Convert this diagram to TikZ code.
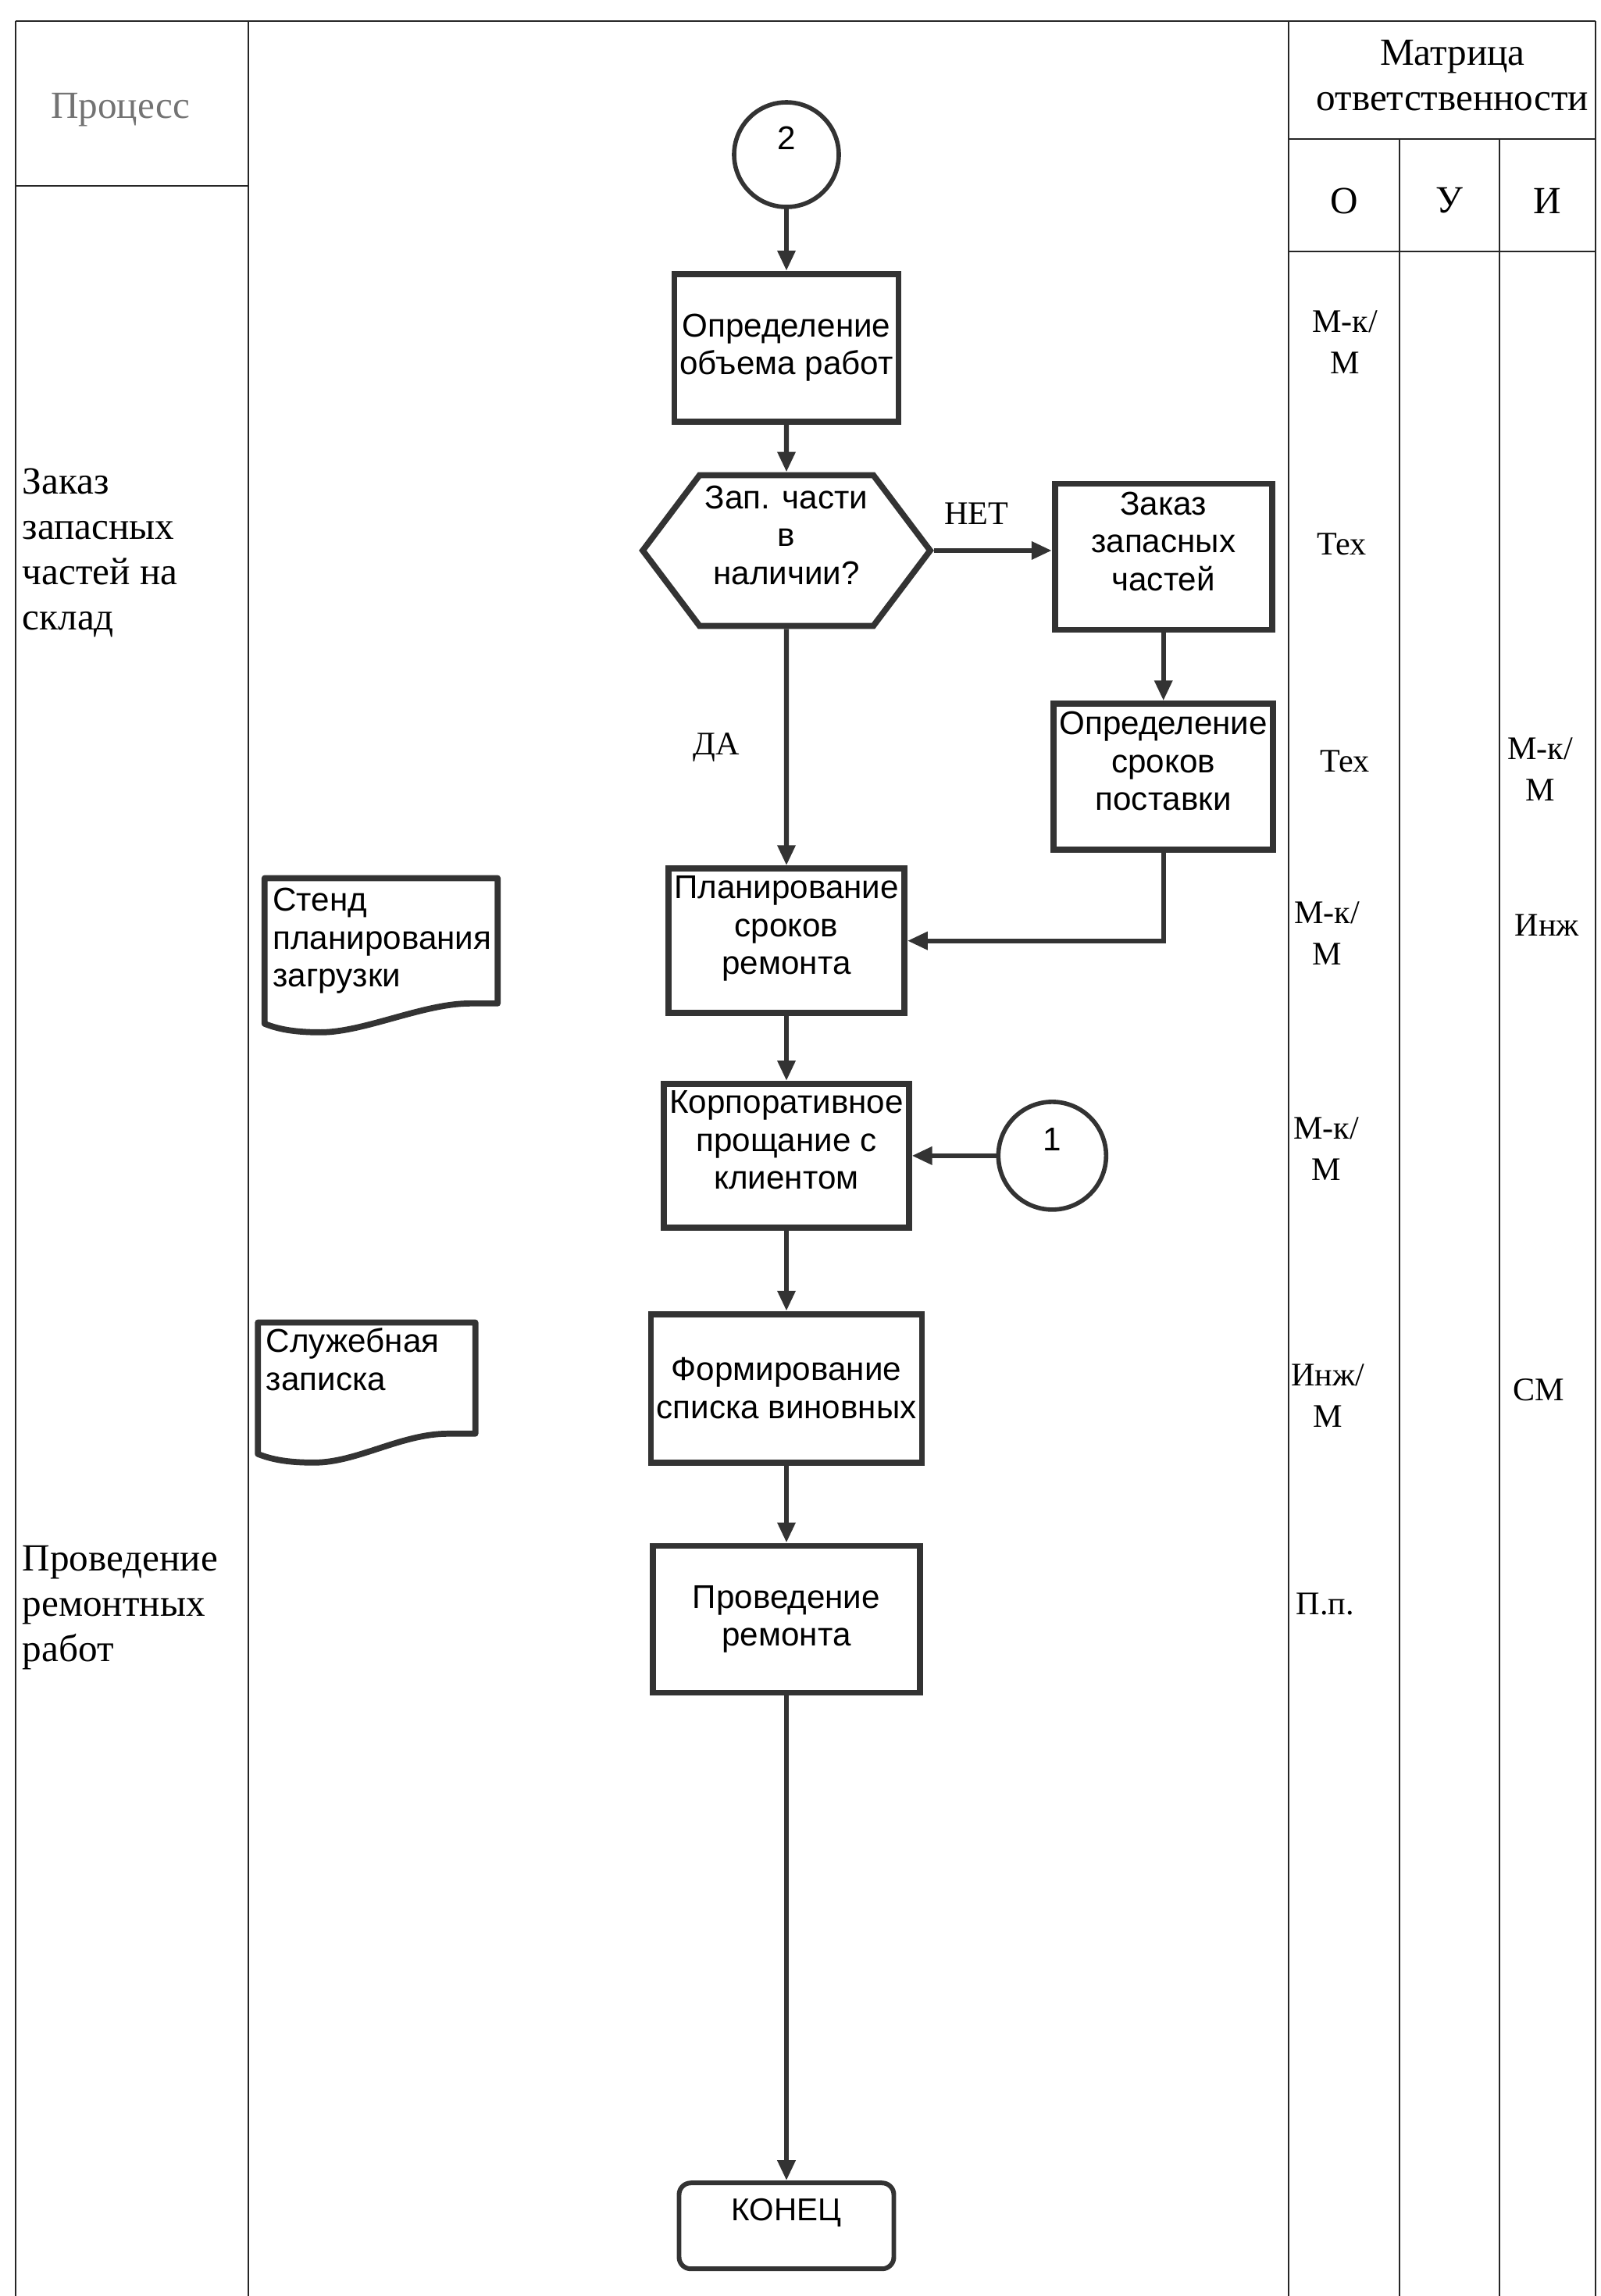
\documentclass[tikz,border=0pt]{standalone}
\usepackage{fontspec}
\setmainfont{Liberation Serif}
\newfontfamily\arialfont{Liberation Sans}
\usetikzlibrary{shapes,arrows.meta,positioning,calc}

\begin{document}
\begin{tikzpicture}[
        box/.style={rectangle, draw=black!80, line width=2.2pt, align=center,
            inner sep=2pt, font=\arialfont\fontsize{12}{13.8}\selectfont},
        box3/.style={box, text depth=0.40cm},
        decis/.style={signal, signal to=east and west, signal pointer angle=106,
            draw=black!80, line width=2.2pt, align=center, inner sep=2pt, text depth=0.40cm,
            font=\arialfont\fontsize{12}{13.8}\selectfont},
        conn/.style={circle, draw=black!80, line width=1.6pt, text depth=0.42cm,
            font=\arialfont\fontsize{12}{13.8}\selectfont},
        endbox/.style={rectangle, rounded corners=0.15cm, draw=black!80, line width=1.7pt,
            text depth=0.42cm, font=\arialfont\fontsize{11.5}{13}\selectfont},
        doc/.style={rectangle, align=left, inner xsep=0.1cm, inner ysep=0pt,
            font=\arialfont\fontsize{12}{13.8}\selectfont},
        docline/.style={draw=black!80, line width=2.2pt, line join=round},
        arr/.style={-{Triangle[length=0.26cm, width=0.22cm]}, line width=1.8pt, draw=black!80},
        grid/.style={line width=0.7pt, draw=black!85},
        proc/.style={align=left, inner sep=0pt, font=\fontsize{14}{16.5}\selectfont},
        head/.style={align=center, inner sep=0pt, font=\fontsize{14}{16.5}\selectfont},
        resp/.style={align=center, inner sep=0pt, font=\fontsize{12}{15}\selectfont},
        yesno/.style={inner sep=0pt, font=\fontsize{12}{14}\selectfont}
    ]
    \useasboundingbox (0,0) rectangle (20.5,-29.4);

    % Table frame
    \draw[grid] (0.2,-0.27) -- (20.43,-0.27);
    \draw[grid] (0.2,-0.27) -- (0.2,-29.4);
    \draw[grid] (3.18,-0.27) -- (3.18,-29.4);
    \draw[grid] (0.2,-2.38) -- (3.18,-2.38);
    \draw[grid] (16.5,-0.27) -- (16.5,-29.4);
    \draw[grid] (20.43,-0.27) -- (20.43,-29.4);
    \draw[grid] (16.5,-1.78) -- (20.43,-1.78);
    \draw[grid] (17.92,-1.78) -- (17.92,-29.4);
    \draw[grid] (19.2,-1.78) -- (19.2,-29.4);
    \draw[grid] (16.5,-3.22) -- (20.43,-3.22);

    \node[head, text=black!55] (hProc) at (1.54,-1.41) {Процесс};
    \node[head] (hMatr) at (18.6,-0.97) {Матрица\\ответственности};
    \node[head] (hO) at (17.21,-2.57) {О};
    \node[head] (hU) at (18.56,-2.57) {У};
    \node[head] (hI) at (19.81,-2.57) {И};

    \node[proc, anchor=north west] (pZak) at (0.28,-5.99) {Заказ\\запасных\\частей на\\склад};
    \node[proc, anchor=north west] (pProv) at (0.28,-19.79) {Проведение\\ремонтных\\работ};

    % Responsibility entries
    \node[resp] (r1o) at (17.22,-4.38) {М-к/\\М};
    \node[resp] (r2o) at (17.18,-6.97) {Тех};
    \node[resp] (r3o) at (17.22,-9.75) {Тех};
    \node[resp] (r3i) at (19.72,-9.85) {М-к/\\М};
    \node[resp] (r4o) at (16.99,-11.95) {М-к/\\М};
    \node[resp] (r4i) at (19.81,-11.85) {Инж};
    \node[resp] (r5o) at (16.98,-14.71) {М-к/\\М};
    \node[resp] (r6o) at (17.0,-17.87) {Инж/\\М};
    \node[resp] (r6i) at (19.7,-17.8) {СМ};
    \node[resp] (r7o) at (16.97,-20.54) {П.п.};

    % Flowchart
    \node[conn, minimum size=1.34cm] (circ2) at (10.07,-1.98) {2};
    \node[box, minimum width=2.74cm, minimum height=1.89cm, below=0.79cm of circ2] (obem) {Определение\\объема работ};
    \node[decis, minimum width=3.62cm, minimum height=1.93cm, below=0.61cm of obem] (hex) {Зап. части\\в\\наличии?};
    \node[box3, minimum width=2.78cm, minimum height=1.87cm, right=1.51cm of hex, yshift=-0.08cm] (zak) {Заказ\\запасных\\частей};
    \node[box3, minimum width=2.79cm, minimum height=1.87cm, below=0.87cm of zak] (srok) {Определение\\сроков\\поставки};
    \node[box3, minimum width=2.94cm, minimum height=1.85cm, below=3.03cm of hex] (plan) {Планирование\\сроков\\ремонта};
    \node[box3, minimum width=3.01cm, minimum height=1.84cm, below=0.83cm of plan] (korp) {Корпоративное\\прощание с\\клиентом};
    \node[conn, minimum size=1.38cm, right=1.08cm of korp] (circ1) {1};
    \node[box, minimum width=3.43cm, minimum height=1.90cm, below=1.03cm of korp] (form) {Формирование\\списка виновных};
    \node[box, minimum width=3.42cm, minimum height=1.88cm, below=0.99cm of form] (prov) {Проведение\\ремонта};
    \node[endbox, minimum width=2.75cm, minimum height=1.10cm, below=6.21cm of prov] (konec) {КОНЕЦ};

    % Documents
    \node[doc, text width=2.77cm, minimum height=1.59cm, left=2.15cm of plan] (stend) {Стенд\\планирования\\загрузки};
    \node[doc, text width=2.57cm, minimum height=1.41cm, left=2.21cm of form, yshift=0.13cm] (sluzh) {Служебная\\записка\\\mbox{}};
    \foreach \d in {stend, sluzh}
        \draw[docline] (\d.south east) -- (\d.north east) -- (\d.north west)
            -- ($(\d.south west)+(0,-0.26)$)
            .. controls +(0.2,-0.08) and +(-0.3,0) .. ($(\d.south west)+(0.72,-0.37)$)
            .. controls +(0.55,0) and +(-0.6,0) .. ($(\d.south east)+(-0.35,0)$) -- cycle;

    \draw[arr] (circ2) -- (obem);
    \draw[arr] (obem) -- (hex);
    \draw[arr] (hex.east) -- node[yesno, pos=0.36, above=0.30cm] (net) {НЕТ} (hex.east -| zak.west);
    \draw[arr] (zak) -- (srok);
    \draw[arr] (hex) -- node[yesno, left=0.57cm] (da) {ДА} (plan);
    \draw[arr] (srok) |- (plan);
    \draw[arr] (plan) -- (korp);
    \draw[arr] (circ1) -- (korp);
    \draw[arr] (korp) -- (form);
    \draw[arr] (form) -- (prov);
    \draw[arr] (prov) -- (konec);
\end{tikzpicture}
\end{document}
